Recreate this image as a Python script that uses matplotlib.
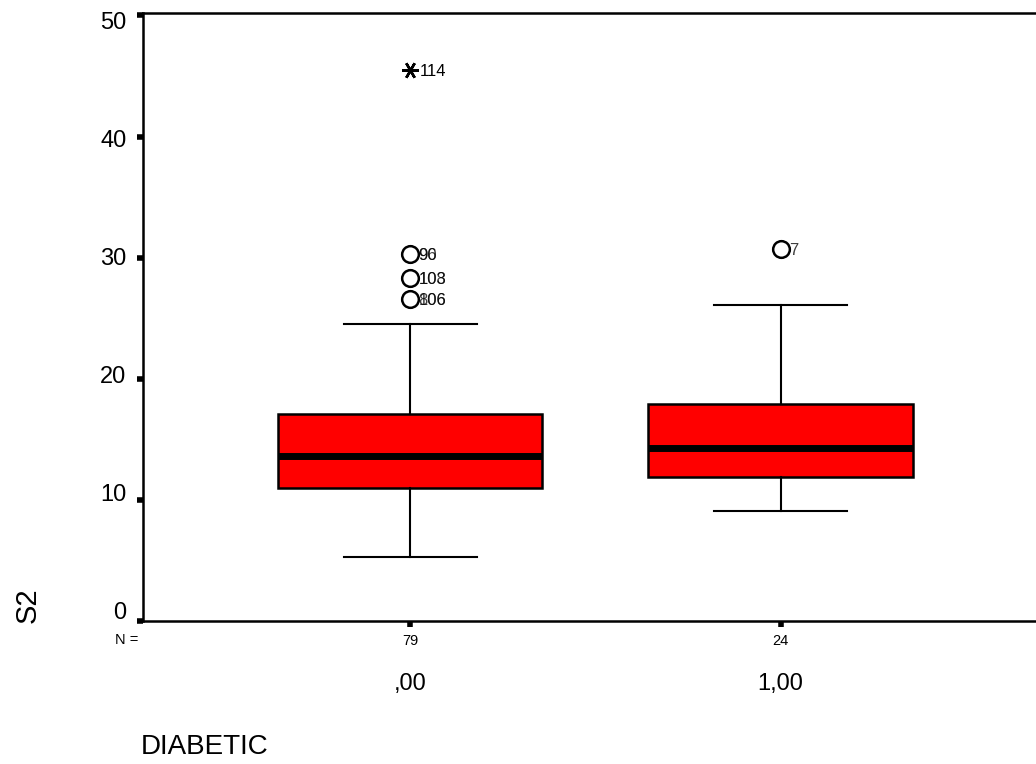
import matplotlib.pyplot as plt
from matplotlib.transforms import ScaledTranslation

plt.rcParams["font.family"] = ["Liberation Sans", "DejaVu Sans"]

# values
groups = [",00", "1,00"]
counts = [79, 24]
q1 = [10.96, 11.86]
medians = [13.59, 14.33]
q3 = [17.13, 17.96]
whisker_lo = [5.27, 9.06]
whisker_hi = [24.55, 26.10]
outlier_vals = [[30.3, 28.3, 26.6], [30.7]]
outlier_ids = [[["90", "96"], ["108", "103"], ["106", "806"]], [["7"]]]
extreme_vals = [[45.5], []]
extreme_ids = [[["114"]], []]
y_ticks = [0, 10, 20, 30, 40, 50]

BOX_RED = "#ff0000"
INK = "#000000"

fig = plt.figure(figsize=(10.36, 7.64), dpi=100)
ax = fig.add_axes([0.138, 0.187, 0.862, 0.796])

positions = [1, 2]
stats = []
for i, g in enumerate(groups):
    stats.append(
        {
            "label": g,
            "med": medians[i],
            "q1": q1[i],
            "q3": q3[i],
            "whislo": whisker_lo[i],
            "whishi": whisker_hi[i],
            "fliers": [],
        }
    )

ax.bxp(
    stats,
    positions=positions,
    widths=0.714,
    patch_artist=True,
    showfliers=False,
    boxprops=dict(facecolor=BOX_RED, edgecolor=INK, linewidth=1.8),
    medianprops=dict(color=INK, linewidth=5, solid_capstyle="butt"),
    whiskerprops=dict(color=INK, linewidth=1.5),
    capprops=dict(color=INK, linewidth=1.5),
    capwidths=0.36,
)

for i, pos in enumerate(positions):
    for val, ids in zip(outlier_vals[i], outlier_ids[i]):
        ax.plot(pos, val, marker="o", markersize=12, markerfacecolor="none",
                markeredgecolor=INK, markeredgewidth=1.8, clip_on=False)
        for label in ids:
            ax.annotate(label, (pos, val), xytext=(6, -1), textcoords="offset points",
                        ha="left", va="center", fontsize=12, color=INK, alpha=0.75)
    for val, ids in zip(extreme_vals[i], extreme_ids[i]):
        ax.plot(pos, val, marker=(6, 2, 90), markersize=12,
                markeredgecolor=INK, markeredgewidth=1.8)
        for label in ids:
            ax.annotate(label, (pos, val), xytext=(7, -1), textcoords="offset points",
                        ha="left", va="center", fontsize=12, color=INK)

ax.set_xlim(0.278, 2.69)
ax.set_ylim(0, 50.2)
ax.set_yticks(y_ticks)
ax.set_xticks(positions)
ax.set_xticklabels([])

for side in ("top", "left", "bottom"):
    ax.spines[side].set_linewidth(1.8)
ax.spines["right"].set_visible(False)
ax.tick_params(axis="y", length=4, width=4, pad=8, labelsize=17)
ax.tick_params(axis="x", length=4, width=4)

# SPSS labels sit slightly off their ticks: a little low at the top, higher at the bottom
for val, lab in zip(y_ticks, ax.get_yticklabels()):
    shift = (-8 + 11.5 * val / 50) / 72
    lab.set_transform(lab.get_transform() + ScaledTranslation(0, -shift, fig.dpi_scale_trans))

# N counts and group labels under the axis
fig.text(115 / 1036, 1 - 640 / 764, "N =", ha="left", va="center", fontsize=10.5)
for pos, n, g in zip(positions, counts, groups):
    ax.annotate(str(n), (pos, 0), xytext=(0, -14), textcoords="offset points",
                ha="center", va="center", fontsize=10.5, annotation_clip=False)
    ax.annotate(g, (pos, 0), xytext=(0, -45), textcoords="offset points",
                ha="center", va="center", fontsize=17, annotation_clip=False)

fig.text(27.5 / 1036, 1 - 605 / 764, "S2", rotation=90, ha="center", va="center", fontsize=21)
fig.text(141 / 1036, 1 - 747 / 764, "DIABETIC", ha="left", va="center", fontsize=20)

fig.savefig("out.png", dpi=100)
